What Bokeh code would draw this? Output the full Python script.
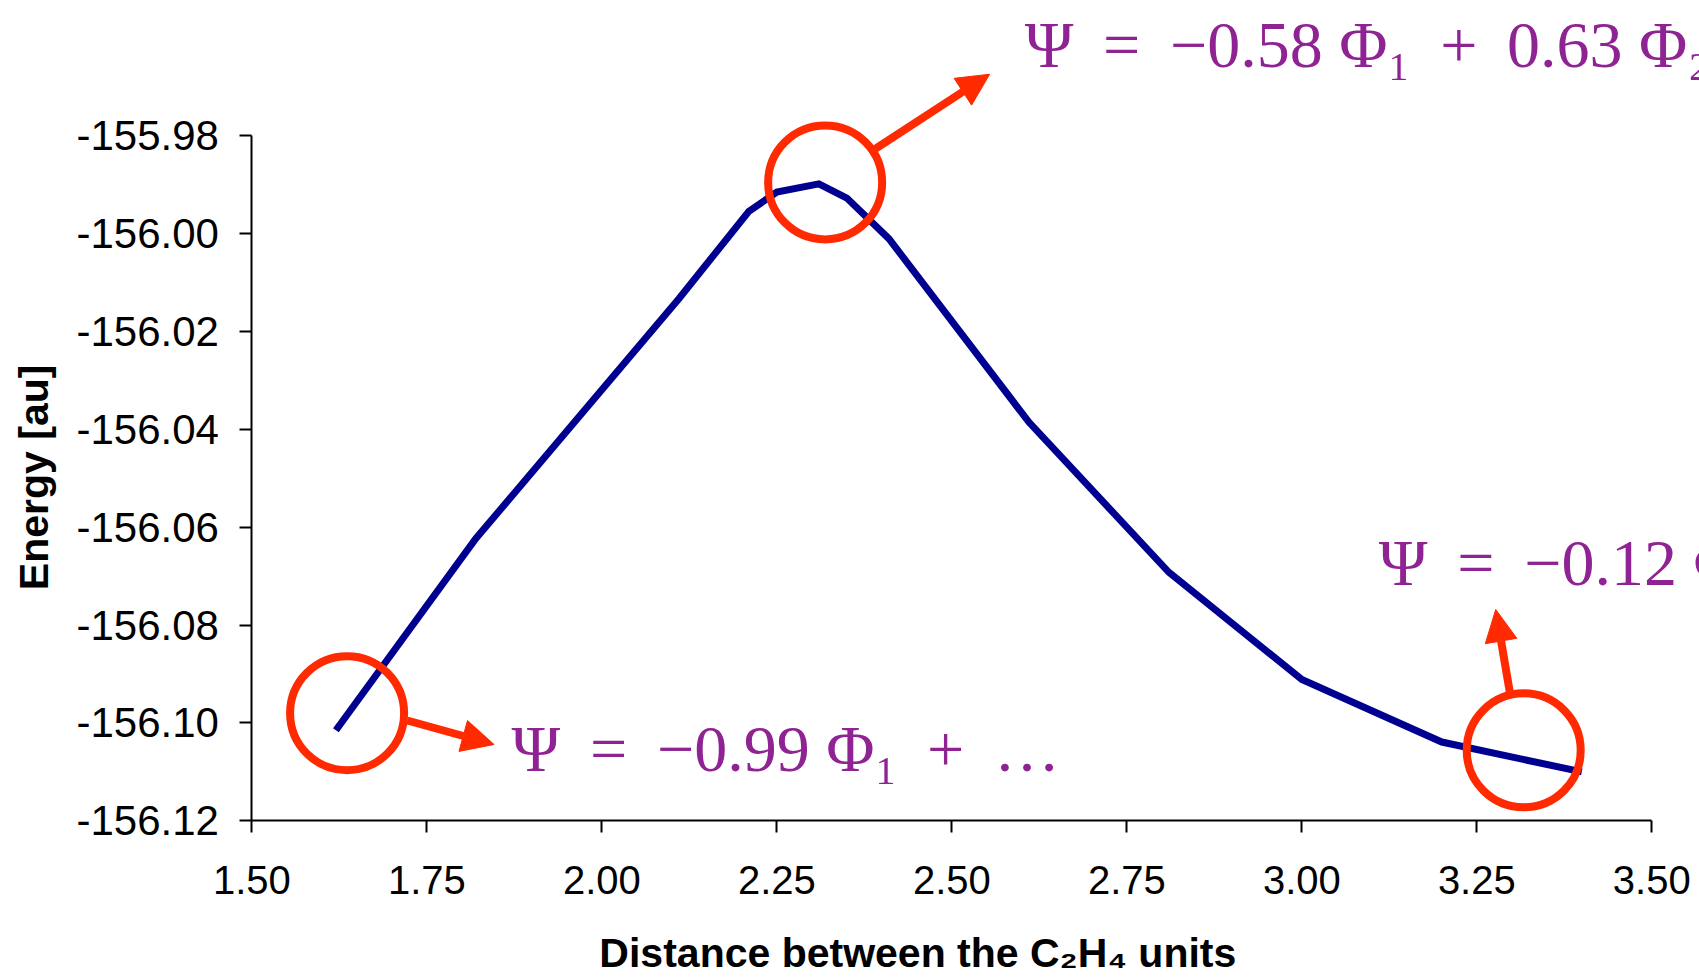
from bokeh.plotting import figure
from bokeh.models import Range1d, Label, Arrow, NormalHead, FixedTicker, PrintfTickFormatter
from bokeh.embed import file_html
from bokeh.resources import INLINE

# ---- data ----
distance = [1.62, 1.82, 2.11, 2.21, 2.25, 2.31, 2.35, 2.41, 2.61, 2.81, 3.00, 3.20, 3.40]
energy = [-156.1015, -156.0623, -156.0133, -155.9954, -155.9915, -155.9898, -155.9927,
          -156.0010, -156.0385, -156.0692, -156.0911, -156.1039, -156.1100]

x_ticks = [1.50, 1.75, 2.00, 2.25, 2.50, 2.75, 3.00, 3.25, 3.50]
y_ticks = [-156.12, -156.10, -156.08, -156.06, -156.04, -156.02, -156.00, -155.98]

# highlighted points (circles)
circle_x = [1.636, 2.319, 3.317]
circle_y = [-156.098, -155.9895, -156.1056]

# annotation texts
S = " \u2009"
label_text = ["Ψ" + S + "=" + S + "−0.99 Φ₁" + S + "+" + S + "…",
              "Ψ" + S + "=" + S + "−0.58 Φ₁" + S + "+" + S + "0.63 Φ₂",
              "Ψ" + S + "=" + S + "−0.12 Φ₁" + S + "+" + S + "0.99 Φ₂"]
label_x = [1.871, 2.604, 3.110]
label_y = [-156.1052, -155.9613, -156.0672]

# arrows from circles to texts
arrow_x0 = [1.722, 2.390, 3.297]
arrow_y0 = [-156.0995, -155.9827, -156.0936]
arrow_x1 = [1.846, 2.554, 3.277]
arrow_y1 = [-156.1044, -155.9674, -156.0768]

x_title = "Distance between the C₂H₄ units"
x_title_pos = (2.4514, -156.1471)
y_title = "Energy [au]"
y_title_pos = (1.1894, -156.0498)

RED = "#ff2a00"
PURPLE = "#8f2393"
NAVY = "#000090"

# ---- layout (pixels) ----
W, H = 1699, 978
AX_LEFT, AX_RIGHT = 251.4, 1651.3     # pixel columns of first/last x tick
AX_TOP, AX_BOTTOM = 135.4, 820.3      # pixel rows of last/first y tick

x0, x1 = x_ticks[0], x_ticks[-1]
y0, y1 = y_ticks[0], y_ticks[-1]
xs_per_px = (x1 - x0) / (AX_RIGHT - AX_LEFT)
ys_per_px = (y1 - y0) / (AX_BOTTOM - AX_TOP)
x_range = Range1d(x0 - AX_LEFT * xs_per_px, x1 + (W - AX_RIGHT) * xs_per_px)
y_range = Range1d(y0 - (H - AX_BOTTOM) * ys_per_px, y1 + AX_TOP * ys_per_px)

p = figure(width=W, height=H, output_backend="svg", toolbar_location=None,
           x_range=x_range, y_range=y_range,
           min_border_left=0, min_border_right=0, min_border_top=0,
           min_border_bottom=0)
p.outline_line_color = None
p.xgrid.visible = False
p.ygrid.visible = False

for ax, ticks, bounds, loc in ((p.xaxis[0], x_ticks, (x0, x1), y0),
                               (p.yaxis[0], y_ticks, (y0, y1), x0)):
    ax.ticker = FixedTicker(ticks=ticks)
    ax.formatter = PrintfTickFormatter(format="%.2f")
    ax.bounds = bounds
    ax.fixed_location = loc
    ax.axis_line_color = "black"
    ax.axis_line_width = 2
    ax.major_tick_line_color = "black"
    ax.major_tick_line_width = 2
    ax.major_tick_out = 12
    ax.major_tick_in = 0
    ax.minor_tick_line_color = None
    ax.major_label_text_font = "Liberation Sans"
    ax.major_label_text_font_size = "40px"
    ax.major_label_text_color = "black"

p.xaxis.major_label_standoff = 33
p.yaxis.major_label_standoff = 21
p.yaxis.major_label_text_font_size = "42px"

p.add_layout(Label(x=y_title_pos[0], y=y_title_pos[1], text=y_title, angle=90,
                   angle_units="deg", text_font="Liberation Sans",
                   text_font_style="bold", text_font_size="41px", text_color="black",
                   text_align="center", text_baseline="middle"))
p.add_layout(Label(x=x_title_pos[0], y=x_title_pos[1], text=x_title,
                   text_font="Liberation Sans", text_font_style="bold",
                   text_font_size="41px", text_color="black",
                   text_align="center", text_baseline="middle"))

p.line(distance, energy, line_color=NAVY, line_width=7, line_join="miter")

p.scatter(circle_x, circle_y, marker="circle", size=114, fill_color=None,
          line_color=RED, line_width=8)

for xs, ys, xe, ye in zip(arrow_x0, arrow_y0, arrow_x1, arrow_y1):
    p.add_layout(Arrow(end=NormalHead(size=32, fill_color=RED, line_color=RED, line_width=1),
                       x_start=xs, y_start=ys, x_end=xe, y_end=ye,
                       line_color=RED, line_width=8))

for t, lx, ly in zip(label_text, label_x, label_y):
    p.add_layout(Label(x=lx, y=ly, text=t, text_font="Liberation Serif",
                       text_font_size="66px", text_color=PURPLE,
                       text_baseline="alphabetic", text_align="left"))

open("out.html", "w").write(file_html(p, INLINE))
